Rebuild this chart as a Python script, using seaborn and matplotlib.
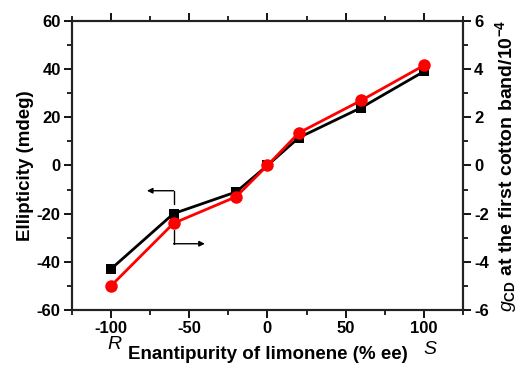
import matplotlib
matplotlib.use("Agg")
import matplotlib.pyplot as plt
import seaborn as sns
import pandas as pd
from matplotlib.ticker import MultipleLocator

# data
ee = [-100, -60, -20, 0, 20, 60, 100]
ellipticity = [-43, -20, -11, 0, 11.5, 24, 39]
g_cd = [-5.0, -2.4, -1.3, 0, 1.35, 2.7, 4.15]

sns.set_theme(style="ticks")
plt.rcParams['font.family'] = ['Liberation Sans', 'DejaVu Sans']
plt.rcParams['text.color'] = 'black'
plt.rcParams['axes.labelcolor'] = 'black'
plt.rcParams['xtick.color'] = 'black'
plt.rcParams['ytick.color'] = 'black'
plt.rcParams['mathtext.fontset'] = 'custom'
plt.rcParams['mathtext.rm'] = 'Liberation Sans:bold'
plt.rcParams['mathtext.bf'] = 'Liberation Sans:bold'
plt.rcParams['mathtext.it'] = 'Liberation Sans:italic'

df = pd.DataFrame({"ee": ee, "ell": ellipticity, "g": g_cd})

fig = plt.figure(figsize=(5.28, 3.66), dpi=100)
ax = fig.add_axes([0.136, 0.153, 0.741, 0.790])
ax2 = ax.twinx()

sns.lineplot(data=df, x="ee", y="ell", ax=ax, color="black", lw=2,
             marker="s", markersize=7, markeredgewidth=0)
sns.lineplot(data=df, x="ee", y="g", ax=ax2, color="red", lw=2,
             marker="o", markersize=9, markeredgewidth=0)

ax.set_xlim(-125, 125)
ax.set_ylim(-60, 60)
ax2.set_ylim(-6, 6)

ax.xaxis.set_minor_locator(MultipleLocator(25))
ax.yaxis.set_minor_locator(MultipleLocator(10))
ax2.yaxis.set_minor_locator(MultipleLocator(1))

ax.set_xticks([-100, -50, 0, 50, 100])
ax.set_xticklabels(["-100", "-50", "0", "50", "100"])
ax.set_yticks([-60, -40, -20, 0, 20, 40, 60])
ax.set_yticklabels(["-60", "-40", "-20", "0", "20", "40", "60"])
ax2.set_yticks([-6, -4, -2, 0, 2, 4, 6])
ax2.set_yticklabels(["-6", "-4", "-2", "0", "2", "4", "6"])

for a in (ax, ax2):
    for s in a.spines.values():
        s.set_visible(True)
        s.set_linewidth(1.5)
        s.set_color("#222222")
    a.tick_params(which="major", length=6, width=1.3, direction="out",
                  labelsize=12, pad=2)
    a.tick_params(which="minor", length=3.5, width=1.2, direction="out")
    for lab in a.get_xticklabels() + a.get_yticklabels():
        lab.set_fontweight("bold")

ax.tick_params(axis="x", which="both", top=True)

ax.set_xlabel("Enantipurity of limonene (% ee)", fontsize=13.5, fontweight="bold", labelpad=7)
ax.set_ylabel("Ellipticity (mdeg)", fontsize=13.5, fontweight="bold", labelpad=2)
ax2.set_ylabel(r"$\mathit{g}_{\mathrm{CD}}$ at the first cotton band/10$^{\mathrm{-4}}$",
               fontsize=14, fontweight="bold", labelpad=3)

# R / S marks below the axis
ax.text(-98, -74.5, "R", fontsize=14, style="italic", ha="center", va="center",
        clip_on=False)
ax.text(104, -76.5, "S", fontsize=14, style="italic", ha="center", va="center",
        clip_on=False)

# arrows indicating which axis each series belongs to
ax.plot([-60, -60], [-16, -10.5], color="black", lw=1)
ax.annotate("", xy=(-77, -10.5), xytext=(-60, -10.5),
            arrowprops=dict(arrowstyle="-|>", color="black", lw=1,
                            mutation_scale=8, shrinkA=0, shrinkB=0))
ax.plot([-60, -60], [-27, -32.5], color="black", lw=1)
ax.annotate("", xy=(-40, -32.5), xytext=(-60, -32.5),
            arrowprops=dict(arrowstyle="-|>", color="black", lw=1,
                            mutation_scale=8, shrinkA=0, shrinkB=0))

ax.set_zorder(ax2.get_zorder() - 1)
ax2.patch.set_visible(False)
ax.patch.set_visible(True)

fig.savefig("out.png", dpi=100)
